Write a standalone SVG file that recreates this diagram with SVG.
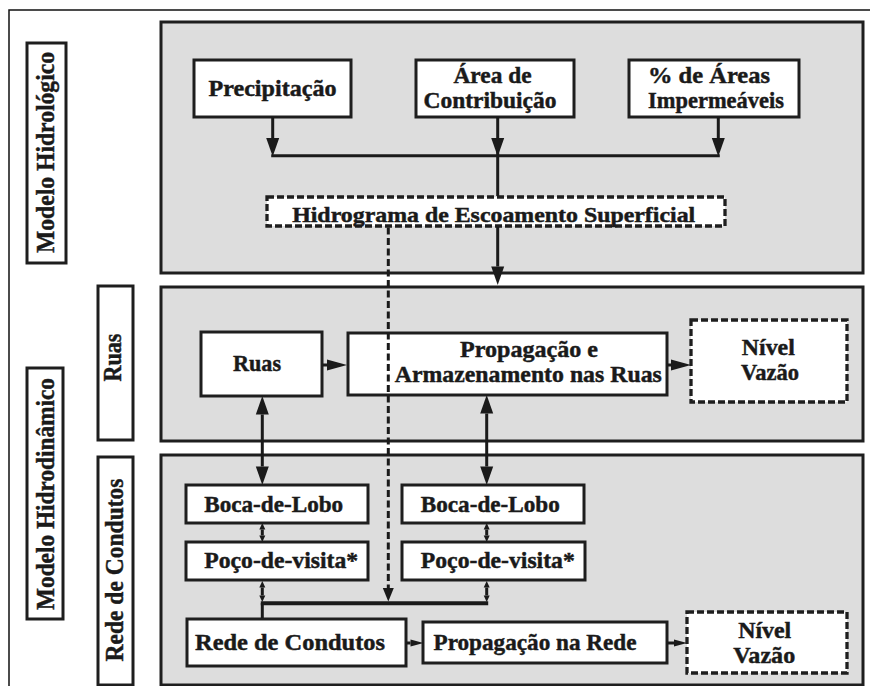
<svg xmlns="http://www.w3.org/2000/svg" width="870" height="686" viewBox="0 0 870 686">
<style>
.panel{fill:#dddddd;stroke:#1e1e1e;stroke-width:3}
.lab{fill:#ffffff;stroke:#1e1e1e;stroke-width:3}
.box{fill:#ffffff;stroke:#1e1e1e;stroke-width:3}
.dbox{fill:#ffffff;stroke:#1e1e1e;stroke-width:3.3;stroke-dasharray:7 3}
text{font-family:"Liberation Serif","Times New Roman",serif;font-weight:bold;fill:#1a1a1a;stroke:#1a1a1a;stroke-width:0.45;text-anchor:middle}
.t{font-size:23px}
.tr{font-size:25.5px}
.ln{fill:none;stroke:#1a1a1a;stroke-width:3}
.dl{fill:none;stroke:#1a1a1a;stroke-width:3;stroke-dasharray:7 3.5}
</style>
<defs>
<marker id="big" markerUnits="userSpaceOnUse" markerWidth="19" markerHeight="14" refX="0" refY="7" orient="auto-start-reverse" overflow="visible"><path d="M0,0.5 L18.5,7 L0,13.5 z" fill="#1a1a1a"/></marker>
<marker id="mid" markerUnits="userSpaceOnUse" markerWidth="20" markerHeight="12" refX="0" refY="6" orient="auto-start-reverse" overflow="visible"><path d="M0,0.5 L20,6 L0,11.5 z" fill="#1a1a1a"/></marker>
<marker id="sm" markerUnits="userSpaceOnUse" markerWidth="7" markerHeight="7" refX="0" refY="3.5" orient="auto-start-reverse" overflow="visible"><path d="M0,0.5 L6.5,3.5 L0,6.5 z" fill="#1a1a1a"/></marker>
<marker id="tiny" markerUnits="userSpaceOnUse" markerWidth="13" markerHeight="8" refX="0" refY="4" orient="auto-start-reverse" overflow="visible"><path d="M0,0.5 L13,4 L0,7.5 z" fill="#1a1a1a"/></marker>
<marker id="dsh" markerUnits="userSpaceOnUse" markerWidth="14" markerHeight="11" refX="0" refY="5.5" orient="auto-start-reverse" overflow="visible"><path d="M0,0 L13.5,5.5 L0,11 z" fill="#1a1a1a"/></marker>
</defs>

<rect x="9" y="10" width="900" height="700" fill="#ffffff" stroke="#111111" stroke-width="1.5"/>

<g id="panel-hidrologico"><rect class="panel" x="161" y="22" width="702" height="251"/></g>
<g id="panel-ruas"><rect class="panel" x="161" y="287" width="702" height="154"/></g>
<g id="panel-rede"><rect class="panel" x="161" y="455" width="702" height="230"/></g>

<g id="label-modelo-hidrologico"><rect class="lab" x="27" y="43" width="39" height="220"/>
<text class="tr" transform="translate(53.5,152.5) rotate(-90)" textLength="201" lengthAdjust="spacingAndGlyphs">Modelo Hidrológico</text></g>
<g id="label-modelo-hidrodinamico"><rect class="lab" x="27" y="368" width="36" height="251"/>
<text class="tr" transform="translate(53.5,494) rotate(-90)" textLength="232" lengthAdjust="spacingAndGlyphs">Modelo Hidrodinâmico</text></g>
<g id="label-ruas"><rect class="lab" x="98" y="286" width="35" height="154"/>
<text class="tr" transform="translate(121,357.5) rotate(-90)" textLength="48" lengthAdjust="spacingAndGlyphs">Ruas</text></g>
<g id="label-rede"><rect class="lab" x="98" y="457" width="35" height="228"/>
<text class="tr" transform="translate(122.5,570) rotate(-90)" textLength="183" lengthAdjust="spacingAndGlyphs">Rede de Condutos</text></g>

<g id="node-precipitacao"><rect class="box" x="194" y="60" width="157" height="57"/>
<text class="t" x="272.5" y="96" textLength="128" lengthAdjust="spacingAndGlyphs">Precipitação</text></g>
<g id="node-area"><rect class="box" x="416" y="60" width="158" height="57"/>
<text class="t" x="492.5" y="83" textLength="78" lengthAdjust="spacingAndGlyphs">Área de</text>
<text class="t" x="490" y="108" textLength="133" lengthAdjust="spacingAndGlyphs">Contribuição</text></g>
<g id="node-impermeaveis"><rect class="box" x="629" y="60" width="170" height="57"/>
<text class="t" x="709" y="83" textLength="122" lengthAdjust="spacingAndGlyphs">% de Áreas</text>
<text class="t" x="716" y="108" textLength="136" lengthAdjust="spacingAndGlyphs">Impermeáveis</text></g>
<g id="node-hidrograma"><rect class="dbox" x="267" y="197" width="458" height="29"/>
<text class="t" style="font-size:21px" x="493.7" y="221.5" textLength="403" lengthAdjust="spacingAndGlyphs">Hidrograma de Escoamento Superficial</text></g>

<g id="node-ruas"><rect class="box" x="201" y="332" width="121" height="64"/>
<text class="t" x="257" y="370.5" textLength="48" lengthAdjust="spacingAndGlyphs">Ruas</text></g>
<g id="node-propagacao-ruas"><rect class="box" x="348" y="333" width="319" height="62"/>
<text class="t" x="529" y="357" textLength="138" lengthAdjust="spacingAndGlyphs">Propagação e</text>
<text class="t" x="528.3" y="381.5" textLength="267" lengthAdjust="spacingAndGlyphs">Armazenamento nas Ruas</text></g>
<g id="node-nivel-ruas"><rect class="dbox" x="691" y="320" width="156" height="82"/>
<text class="t" x="768.3" y="355" textLength="53" lengthAdjust="spacingAndGlyphs">Nível</text>
<text class="t" x="770" y="380" textLength="58" lengthAdjust="spacingAndGlyphs">Vazão</text></g>

<g id="node-boca-1"><rect class="box" x="186" y="485" width="182" height="38"/>
<text class="t" x="273.7" y="511.5" textLength="139" lengthAdjust="spacingAndGlyphs">Boca-de-Lobo</text></g>
<g id="node-boca-2"><rect class="box" x="402" y="485" width="182" height="38"/>
<text class="t" x="490.3" y="511.5" textLength="139" lengthAdjust="spacingAndGlyphs">Boca-de-Lobo</text></g>
<g id="node-poco-1"><rect class="box" x="186" y="542" width="182" height="38"/>
<text class="t" x="281.2" y="568" textLength="154" lengthAdjust="spacingAndGlyphs">Poço-de-visita*</text></g>
<g id="node-poco-2"><rect class="box" x="402" y="542" width="183" height="38"/>
<text class="t" x="497.8" y="568" textLength="154" lengthAdjust="spacingAndGlyphs">Poço-de-visita*</text></g>
<g id="node-rede-condutos"><rect class="box" x="187" y="619" width="219" height="47"/>
<text class="t" x="290" y="650" textLength="190" lengthAdjust="spacingAndGlyphs">Rede de Condutos</text></g>
<g id="node-propagacao-rede"><rect class="box" x="423" y="622" width="244" height="41"/>
<text class="t" x="535" y="650" textLength="203" lengthAdjust="spacingAndGlyphs">Propagação na Rede</text></g>
<g id="node-nivel-rede"><rect class="dbox" x="687" y="612" width="160" height="61"/>
<text class="t" x="764.7" y="638.3" textLength="53" lengthAdjust="spacingAndGlyphs">Nível</text>
<text class="t" x="764.2" y="662.5" textLength="62" lengthAdjust="spacingAndGlyphs">Vazão</text></g>

<g id="connectors">
<line class="ln" x1="272.7" y1="117" x2="272.7" y2="138" marker-end="url(#big)"/>
<line class="ln" x1="497.7" y1="117" x2="497.7" y2="138" marker-end="url(#big)"/>
<line class="ln" x1="497.7" y1="150" x2="497.7" y2="196"/>
<line class="ln" x1="718.3" y1="117" x2="718.3" y2="138" marker-end="url(#big)"/>
<line class="ln" x1="271.2" y1="155.7" x2="719.8" y2="155.7"/>
<line class="ln" x1="497.7" y1="227" x2="497.7" y2="266.5" marker-end="url(#big)"/>
<line class="dl" x1="388.3" y1="227.5" x2="388.3" y2="588" marker-end="url(#dsh)"/>
<line class="ln" x1="322" y1="365" x2="327" y2="365" marker-end="url(#mid)"/>
<line class="ln" x1="667" y1="365" x2="671" y2="365" marker-end="url(#mid)"/>
<line class="ln" x1="262.3" y1="414.5" x2="262.3" y2="466.5" marker-start="url(#big)" marker-end="url(#big)"/>
<line class="ln" x1="486.7" y1="413.5" x2="486.7" y2="466.5" marker-start="url(#big)" marker-end="url(#big)"/>
<line class="ln" x1="262.3" y1="529.5" x2="262.3" y2="535.5" marker-start="url(#sm)" marker-end="url(#sm)"/>
<line class="ln" x1="486.7" y1="529.5" x2="486.7" y2="535.5" marker-start="url(#sm)" marker-end="url(#sm)"/>
<line class="ln" x1="262.3" y1="587.5" x2="262.3" y2="595.5" marker-start="url(#sm)" marker-end="url(#sm)"/>
<line class="ln" x1="486.7" y1="587.5" x2="486.7" y2="595.5" marker-start="url(#sm)" marker-end="url(#sm)"/>
<line class="ln" x1="262.3" y1="603" x2="262.3" y2="618"/>
<line class="ln" style="stroke-width:4" x1="260.8" y1="603.3" x2="488.2" y2="603.3"/>
<line class="ln" x1="406" y1="643" x2="410.5" y2="643" marker-end="url(#tiny)"/>
<line class="ln" x1="667" y1="643" x2="674" y2="643" marker-end="url(#tiny)"/>
</g>
</svg>
